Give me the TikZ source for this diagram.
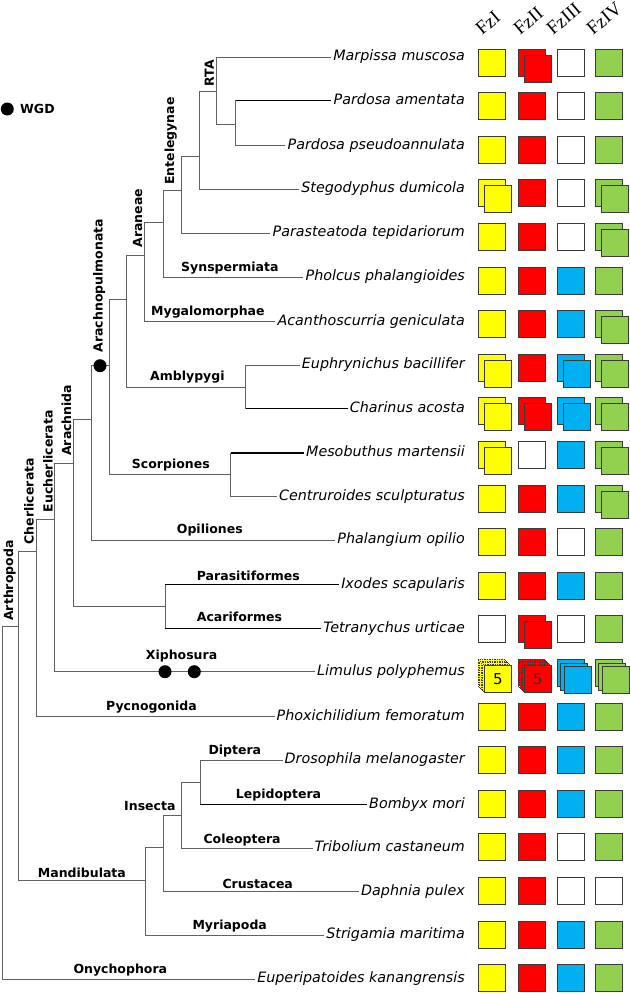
\documentclass[tikz,border=0pt]{standalone}
\usepackage{fontspec}
\setmainfont{DejaVu Sans}[ItalicFont={DejaVu Sans Oblique},BoldFont={DejaVu Sans Bold}]
\newfontfamily\hdrfont{Liberation Serif}
\usetikzlibrary{positioning}
\definecolor{fzyel}{HTML}{FFFF00}
\definecolor{fzred}{HTML}{FF0000}
\definecolor{fzblu}{HTML}{00B0F0}
\definecolor{fzgrn}{HTML}{92D050}
\definecolor{fzedge}{HTML}{3A3A3A}
\tikzset{
branch/.style={draw=black!62, line width=0.8pt},
heavybranch/.style={draw=black, line width=1.4pt},
taxon/.style={anchor=east, inner sep=2pt, text height=11pt, text depth=3.5pt, font=\fontsize{14.3}{16}\selectfont\itshape},
cladelabel/.style={anchor=base west, inner sep=1pt, font=\fontsize{12.5}{14}\selectfont\bfseries},
uplabel/.style={cladelabel, rotate=90},
fzbox/.style={draw=fzedge, line width=0.7pt, minimum size=27pt, inner sep=0pt},
fzhead/.style={rotate=40, anchor=base west, inner sep=0pt, font=\hdrfont\fontsize{19}{20}\selectfont},
wgddot/.style={circle, fill=black, inner sep=0pt, minimum size=13pt}
}
% one gene cell: name, x, y, fill, copies
\newcommand{\fzcell}[5]{%
  \foreach \k in {1,...,#5}{
    \node[fzbox, fill=#4] (#1-\k) at ({#2+(\k-1)*6},{#3+(\k-1)*6}) {};
  }}

\begin{document}
\begin{tikzpicture}[x=1pt, y=-1pt]
\path[use as bounding box, fill=white] (0,0) rectangle (629,993);

% species
\node[taxon] (marpissa) at (467,57) {Marpissa muscosa};
\node[taxon] (pamentata) at (467,100.5) {Pardosa amentata};
\node[taxon] (ppseudo) at (467,145.5) {Pardosa pseudoannulata};
\node[taxon] (stego) at (467,189) {Stegodyphus dumicola};
\node[taxon] (parast) at (467,233) {Parasteatoda tepidariorum};
\node[taxon] (pholcus) at (467,277) {Pholcus phalangioides};
\node[taxon] (acantho) at (467,321.5) {Acanthoscurria geniculata};
\node[taxon] (euphry) at (467,365) {Euphrynichus bacillifer};
\node[taxon] (charinus) at (467,408.7) {Charinus acosta};
\node[taxon] (mesobu) at (467,453) {Mesobuthus martensii};
\node[taxon] (centru) at (467,496.5) {Centruroides sculpturatus};
\node[taxon] (phalang) at (467,540) {Phalangium opilio};
\node[taxon] (ixodes) at (467,584.3) {Ixodes scapularis};
\node[taxon] (tetrany) at (467,628.3) {Tetranychus urticae};
\node[taxon] (limulus) at (467,671.7) {Limulus polyphemus};
\node[taxon] (phoxi) at (467,716.5) {Phoxichilidium femoratum};
\node[taxon] (droso) at (467,760) {Drosophila melanogaster};
\node[taxon] (bombyx) at (467,804.5) {Bombyx mori};
\node[taxon] (tribol) at (467,848) {Tribolium castaneum};
\node[taxon] (daphnia) at (467,891.7) {Daphnia pulex};
\node[taxon] (strigam) at (467,935) {Strigamia maritima};
\node[taxon] (euperi) at (467,979) {Euperipatoides kanangrensis};

% inner nodes of the tree
\coordinate (root) at (2,626.7);
\coordinate (arthro) at (18.3,626.7);
\coordinate (cheli) at (36.7,551.7);
\coordinate (eucheli) at (54.7,519);
\coordinate (arachnida) at (73,463.3);
\coordinate (arach2) at (91,419.3);
\coordinate (pulmo) at (109.3,365.7);
\coordinate (pulmo2) at (126.7,299.3);
\coordinate (araneae) at (144.7,255);
\coordinate (araneae2) at (163,222.3);
\coordinate (entel) at (181,190);
\coordinate (entel2) at (199,156.7);
\coordinate (rta) at (216.7,91.7);
\coordinate (pardosa) at (235.7,124);
\coordinate (amblyp) at (245.7,387);
\coordinate (scorp) at (230.7,474);
\coordinate (acari) at (165,606);
\coordinate (mandi) at (145.7,880);
\coordinate (pancrust) at (163.3,847.7);
\coordinate (insecta) at (181.7,815);
\coordinate (holomet) at (200,782.3);

% branches
\draw[branch] (root) |- (arthro);
\draw[branch] (root) |- (euperi.west);
\draw[branch] (arthro) |- (cheli);
\draw[branch] (arthro) |- (mandi);
\draw[branch] (cheli) |- (eucheli);
\draw[branch] (cheli) |- (phoxi.west);
\draw[branch] (eucheli) |- (arachnida);
\draw[branch] (eucheli) |- (limulus.west);
\draw[branch] (arachnida) |- (arach2);
\draw[branch] (arachnida) |- (acari);
\draw[branch] (arach2) |- (pulmo);
\draw[branch] (arach2) |- (phalang.west);
\draw[branch] (pulmo) |- (pulmo2);
\draw[branch] (pulmo) |- (scorp);
\draw[branch] (pulmo2) |- (araneae);
\draw[branch] (pulmo2) |- (amblyp);
\draw[branch] (araneae) |- (araneae2);
\draw[branch] (araneae) |- (acantho.west);
\draw[branch] (araneae2) |- (entel);
\draw[branch] (araneae2) |- (pholcus.west);
\draw[branch] (entel) |- (entel2);
\draw[branch] (entel) |- (parast.west);
\draw[branch] (entel2) |- (rta);
\draw[branch] (entel2) |- (stego.west);
\draw[branch] (rta) |- (marpissa.west);
\draw[branch] (rta) |- (pardosa);
\draw[branch] (pardosa) |- (pamentata.west);
\draw[branch] (pardosa) |- (ppseudo.west);
\draw[branch] (amblyp) |- (euphry.west);
\draw[branch] (amblyp) |- (charinus.west);
\draw[branch] (scorp) |- (mesobu.west);
\draw[branch] (scorp) |- (centru.west);
\draw[branch] (acari) |- (ixodes.west);
\draw[branch] (acari) |- (tetrany.west);
\draw[branch] (mandi) |- (pancrust);
\draw[branch] (mandi) |- (strigam.west);
\draw[branch] (pancrust) |- (insecta);
\draw[branch] (pancrust) |- (daphnia.west);
\draw[branch] (insecta) |- (holomet);
\draw[branch] (insecta) |- (tribol.west);
\draw[branch] (holomet) |- (droso.west);
\draw[branch] (holomet) |- (bombyx.west);
% darker leaf branches
\draw[heavybranch] (pardosa |- pamentata.west) -- (pamentata.west);
\draw[heavybranch] (amblyp |- charinus.west) -- (charinus.west);
\draw[heavybranch] (scorp |- mesobu.west) -- (mesobu.west);
\draw[heavybranch] (acari |- ixodes.west) -- (ixodes.west);
\draw[heavybranch] (acari |- tetrany.west) -- (tetrany.west);
\draw[heavybranch] (holomet |- bombyx.west) -- (bombyx.west);

% WGD events
\node[wgddot] (wgdpulmo) at (100,365.7) {};
\node[wgddot] (wgdxipho1) at (165,671.7) {};
\node[wgddot] (wgdxipho2) at (194.3,671.7) {};
\node[wgddot] (wgdkey) at (7.3,109) {};
\node[cladelabel] (wgdtext) at (19,113.5) {WGD};

% clade names
\node[uplabel] (lrta) at (213.8,87.5) {RTA};
\node[uplabel] (lentel) at (174,186) {Entelegynae};
\node[uplabel] (laraneae) at (142,248.5) {Araneae};
\node[uplabel] (lpulmo) at (102.5,353.5) {Arachnopulmonata};
\node[uplabel] (larachnida) at (71,457) {Arachnida};
\node[uplabel] (leucheli) at (52.6,513.5) {Eucherlicerata};
\node[uplabel] (lcheli) at (33.6,545.5) {Cherlicerata};
\node[uplabel] (larthro) at (13,622) {Arthropoda};
\node[cladelabel] (lsynsp) at (180,271.3) {Synspermiata};
\node[cladelabel] (lmygalo) at (150,315.3) {Mygalomorphae};
\node[cladelabel] (lamblyp) at (149,380.5) {Amblypygi};
\node[cladelabel] (lscorp) at (130.7,468) {Scorpiones};
\node[cladelabel] (lopil) at (175.7,533) {Opiliones};
\node[cladelabel] (lparasit) at (195.7,580.3) {Parasitiformes};
\node[cladelabel] (lacarif) at (195.7,621.5) {Acariformes};
\node[cladelabel] (lxipho) at (144.7,659) {Xiphosura};
\node[cladelabel] (lpycno) at (105,710.3) {Pycnogonida};
\node[cladelabel] (ldiptera) at (207.3,754) {Diptera};
\node[cladelabel] (llepido) at (234.7,798.5) {Lepidoptera};
\node[cladelabel] (linsecta) at (123,810.5) {Insecta};
\node[cladelabel] (lcoleo) at (202.3,843) {Coleoptera};
\node[cladelabel] (lmandi) at (36.7,877) {Mandibulata};
\node[cladelabel] (lcrust) at (221.3,888) {Crustacea};
\node[cladelabel] (lmyria) at (191.3,929.5) {Myriapoda};
\node[cladelabel] (lonycho) at (72.3,973.5) {Onychophora};

% Fz column heads
\node[fzhead] (hfzI) at (482,36) {FzI};
\node[fzhead] (hfzII) at (520,36) {FzII};
\node[fzhead] (hfzIII) at (553,36) {FzIII};
\node[fzhead] (hfzIV) at (593,36) {FzIV};

% gene copies per species
\foreach \r/\ca/\na/\cb/\nb/\cc/\nc/\cd/\nd in {
  1/fzyel/1/fzred/2/white/1/fzgrn/1, 2/fzyel/1/fzred/1/white/1/fzgrn/1,
  3/fzyel/1/fzred/1/white/1/fzgrn/1, 4/fzyel/2/fzred/1/white/1/fzgrn/2,
  5/fzyel/1/fzred/1/white/1/fzgrn/2, 6/fzyel/1/fzred/1/fzblu/1/fzgrn/1,
  7/fzyel/1/fzred/1/fzblu/1/fzgrn/2, 8/fzyel/2/fzred/1/fzblu/2/fzgrn/2,
  9/fzyel/2/fzred/2/fzblu/2/fzgrn/2, 10/fzyel/2/white/1/fzblu/1/fzgrn/2,
  11/fzyel/1/fzred/1/fzblu/1/fzgrn/2, 12/fzyel/1/fzred/1/white/1/fzgrn/1,
  13/fzyel/1/fzred/1/fzblu/1/fzgrn/1, 14/white/1/fzred/2/white/1/fzgrn/1,
  16/fzyel/1/fzred/1/fzblu/1/fzgrn/1, 17/fzyel/1/fzred/1/fzblu/1/fzgrn/1,
  18/fzyel/1/fzred/1/fzblu/1/fzgrn/1, 19/fzyel/1/fzred/1/white/1/fzgrn/1,
  20/fzyel/1/fzred/1/white/1/white/1, 21/fzyel/1/fzred/1/fzblu/1/fzgrn/1,
  22/fzyel/1/fzred/1/fzblu/1/fzgrn/1}{
  \pgfmathsetmacro\by{62.5+(\r-1)*43.6}
  \fzcell{c\r a}{491.5}{\by}{\ca}{\na}
  \fzcell{c\r b}{531.5}{\by}{\cb}{\nb}
  \fzcell{c\r c}{570.5}{\by}{\cc}{\nc}
  \fzcell{c\r d}{608.5}{\by}{\cd}{\nd}
}

% Limulus: many copies
\foreach \k in {0,...,3}{
  \node[fzbox, fill=fzyel, densely dotted] (c15a-\k) at ({491.5+\k*1.6},{672.9+\k*1.6}) {};
  \node[fzbox, fill=fzred, densely dotted] (c15b-\k) at ({531.5+\k*1.6},{672.9+\k*1.6}) {};
}
\node[fzbox, fill=fzyel, font=\fontsize{15}{16}\selectfont] (c15a-4) at (497.9,679.3) {5};
\node[fzbox, fill=fzred, font=\fontsize{15}{16}\selectfont, text=black!80] (c15b-4) at (537.9,679.3) {5};
\foreach \k in {0,1,2}{
  \node[fzbox, fill=fzblu] (c15c-\k) at ({570.5+\k*3.5},{672.9+\k*3.5}) {};
  \node[fzbox, fill=fzgrn] (c15d-\k) at ({608.5+\k*3.5},{672.9+\k*3.5}) {};
}
\end{tikzpicture}
\end{document}
